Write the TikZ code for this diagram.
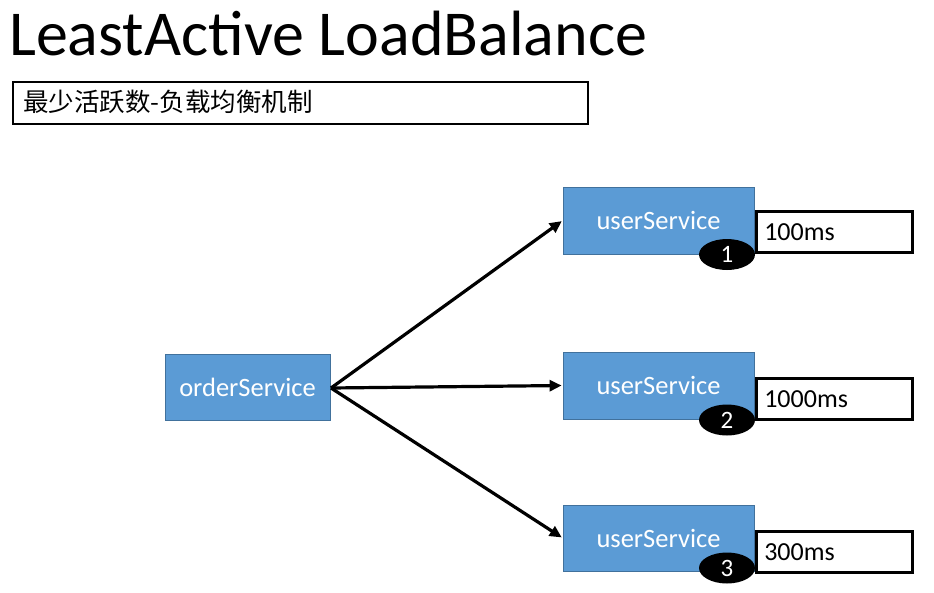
\documentclass[tikz,border=0pt]{standalone}
\usepackage{fontspec}
\setmainfont{Carlito}
\newfontfamily\cjk{Noto Sans CJK SC}
\usetikzlibrary{arrows.meta,shapes.geometric}
\definecolor{boxblue}{HTML}{5B9BD5}
\definecolor{boxedge}{HTML}{41719C}
\tikzset{
  svc/.style={draw=boxedge, line width=0.8pt, fill=boxblue, text=white, font=\fontsize{26.5}{28}\selectfont, minimum height=66pt, inner sep=0pt},
  timebox/.style={draw=black, line width=2.6pt, fill=white, anchor=north west, minimum width=156pt, minimum height=41pt, inner sep=0pt, font=\fontsize{26}{28}\selectfont, text width=140pt, align=left},
  badge/.style={ellipse, fill=black, text=white, minimum width=56pt, minimum height=31pt, inner sep=0pt, font=\fontsize{25}{26}\selectfont},
  conn/.style={line width=3.2pt, -{Triangle[length=12pt,width=11pt]}, shorten >=1pt}
}
\begin{document}
\begin{tikzpicture}[x=1pt,y=-1pt]
\useasboundingbox (0,0) rectangle (934,592);
\node[anchor=base west, inner sep=0pt, font=\fontsize{64}{70}\selectfont] (title) at (9,55) {LeastActive LoadBalance};
\node[draw=black, line width=2.4pt, anchor=north west, minimum width=575pt, minimum height=42pt, inner sep=0pt] (sub) at (12,81) {};
\node[anchor=west, inner sep=0pt, font=\cjk\fontsize{25.5}{28}\selectfont] (subtxt) at (23,102) {最少活跃数-负载均衡机制};

\node[svc, minimum width=165pt] (order) at (247.5,387.5) {orderService};
\node[svc, minimum width=191pt, minimum height=67pt] (u1) at (658.5,220.5) {userService};
\node[svc, minimum width=191pt, minimum height=67pt] (u2) at (658.5,385.5) {userService};
\node[svc, minimum width=191pt, minimum height=66pt] (u3) at (658.5,538) {userService};

\node[timebox] (t1) at (755,210) {100ms};
\node[timebox] (t2) at (755,377) {1000ms};
\node[timebox] (t3) at (755,530) {300ms};

\node[badge] (b1) at (727,254.5) {1};
\node[badge] (b2) at (727,420) {2};
\node[badge] (b3) at (727,568) {3};

\coordinate (o) at (331,388);
\draw[conn] (o) -- (u1.west);
\draw[conn] (o) -- (u2.west);
\draw[conn] (o) -- (u3.west);
\end{tikzpicture}
\end{document}
